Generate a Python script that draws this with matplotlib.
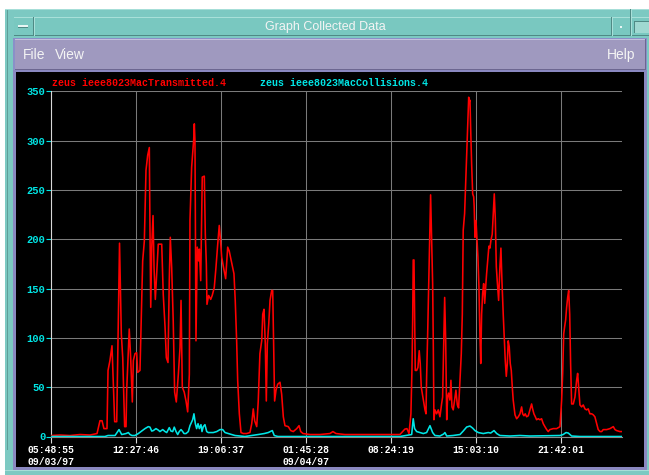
import matplotlib
matplotlib.use("Agg")
import matplotlib.pyplot as plt
from matplotlib.patches import Rectangle

# hours since 05:48:55 on 09/03/97
tx_hours = [0, 0.70, 1.49, 2.27, 3.05, 3.60, 3.83, 3.99, 4.14, 4.38, 4.46, 4.61, 4.77, 4.98, 5.14,
            5.36, 5.50, 5.61, 5.76, 5.87, 5.92, 6.12, 6.23, 6.36, 6.44, 6.57, 6.70, 6.78, 6.96, 7.04,
            7.17, 7.30, 7.43, 7.56, 7.69, 7.74, 7.80, 7.88, 7.98, 8.06, 8.16, 8.27, 8.39, 8.66, 8.78,
            8.92, 9.02, 9.15, 9.25, 9.33, 9.44, 9.56, 9.67, 9.80, 9.96, 10.09, 10.17, 10.27, 10.42,
            10.56, 10.69, 10.82, 10.87, 11.00, 11.16, 11.21, 11.26, 11.34, 11.44, 11.55, 11.60, 11.71,
            11.83, 11.99, 12.07, 12.15, 12.20, 12.33, 12.49, 12.61, 12.77, 12.90, 13.04, 13.16, 13.24,
            13.35, 13.47, 13.66, 13.82, 13.94, 14.13, 14.31, 14.41, 14.52, 14.60, 14.73, 14.86, 15.04,
            15.30, 15.56, 15.70, 15.82, 15.93, 16.09, 16.21, 16.34, 16.48, 16.56, 16.66, 16.76, 16.84,
            16.92, 17.03, 17.13, 17.26, 17.34, 17.42, 17.49, 17.60, 17.73, 17.91, 18.04, 18.17, 18.30,
            18.56, 18.75, 18.95, 19.22, 19.40, 19.53, 19.71, 20.26, 21.04, 21.82, 22.05, 22.29, 22.99,
            24.17, 25.73, 27.29, 27.68, 27.84, 28.00, 28.15, 28.23, 28.29, 28.33, 28.39, 28.44, 28.49,
            28.60, 28.70, 28.80, 28.88, 28.96, 29.12, 29.25, 29.33, 29.38, 29.46, 29.54, 29.62, 29.69,
            29.77, 29.85, 29.90, 29.95, 30.03, 30.16, 30.29, 30.42, 30.55, 30.63, 30.71, 30.79, 30.87,
            30.95, 31.02, 31.10, 31.20, 31.28, 31.36, 31.46, 31.57, 31.67, 31.78, 31.88, 31.99, 32.09,
            32.17, 32.24, 32.35, 32.43, 32.51, 32.59, 32.67, 32.71, 32.77, 32.82, 32.90, 32.98, 33.06,
            33.10, 33.16, 33.24, 33.32, 33.39, 33.47, 33.55, 33.61, 33.68, 33.76, 33.84, 33.92, 34.00,
            34.07, 34.18, 34.25, 34.33, 34.41, 34.51, 34.59, 34.67, 34.75, 34.83, 34.90, 35.01, 35.11,
            35.19, 35.27, 35.37, 35.45, 35.53, 35.61, 35.69, 35.76, 35.84, 35.92, 36.00, 36.08, 36.15,
            36.29, 36.42, 36.55, 36.68, 36.81, 36.89, 36.99, 37.09, 37.20, 37.33, 37.46, 37.59, 37.67,
            37.77, 37.88, 37.98, 38.11, 38.24, 38.37, 38.50, 38.63, 38.77, 38.89, 39.02, 39.28, 39.55,
            39.81, 39.94, 40.02, 40.10, 40.17, 40.25, 40.33, 40.41, 40.49, 40.57, 40.64, 40.72, 40.85,
            40.98, 41.11, 41.19, 41.27, 41.37, 41.50, 41.63, 41.76, 41.89, 42.02, 42.15, 42.29, 42.41,
            42.54, 42.68, 42.80, 42.94, 43.07, 43.19, 43.46, 43.72, 43.98, 44.11, 44.24, 44.50, 44.66]
tx_values = [1, 1.5, 1, 2, 1.5, 3, 16, 16, 8, 8, 67, 77, 92, 15, 15,
             196, 104, 80, 10, 10, 47, 109, 80, 35, 77, 84, 85, 65, 67, 111,
             178, 198, 270, 285, 293, 212, 131, 192, 224, 171, 139, 165, 195, 195, 144,
             111, 80, 75, 158, 202, 171, 117, 45, 35, 63, 90, 138, 50, 45,
             36, 25, 63, 219, 273, 301, 317, 300, 97, 192, 178, 190, 158,
             263, 264, 205, 175, 134, 143, 139, 143, 151, 171, 195, 214, 202,
             182, 173, 160, 192, 188, 176, 165, 138, 97, 57, 23, 4, 3,
             3, 4, 13, 28, 16, 10, 36, 84, 97, 124, 129, 94, 36,
             94, 114, 138, 148, 148, 90, 36, 47, 53, 55, 43, 20, 11,
             10, 6, 5, 8, 11, 5, 3, 2, 2, 3, 5, 3, 2,
             2, 2, 2, 7.5, 8, 3, 23, 67, 121, 179, 179, 118, 67,
             67, 70, 87, 74, 50, 37, 27, 23, 61, 104, 152, 199, 245,
             199, 155, 94, 17, 27, 23, 27, 20, 33, 40, 91, 141, 97,
             17, 40, 44, 37, 57, 30, 27, 37, 47, 32, 29, 57, 84,
             124, 209, 226, 256, 283, 317, 344, 339, 341, 314, 276, 246, 243,
             233, 202, 219, 199, 182, 152, 101, 74, 124, 145, 155, 135, 152,
             165, 182, 193, 191, 199, 205, 226, 246, 221, 172, 158, 138, 172,
             191, 158, 124, 101, 77, 61, 74, 97, 91, 74, 67, 50, 37,
             22, 18, 20, 23, 30, 23, 21, 23, 20, 21, 27, 33, 28,
             23, 20, 17, 18, 17, 18, 13, 10, 7, 5, 7, 8, 8,
             10, 37, 64, 104, 111, 118, 131, 141, 148, 124, 74, 33, 33,
             40, 57, 64, 50, 32, 30, 32, 28, 27, 28, 23, 23, 22,
             20, 13, 7, 5, 5, 7, 7, 8, 10, 7, 6, 5, 5]

col_hours = [0, 4.22, 4.46, 5.01, 5.32, 5.53, 5.87, 6.05, 6.18, 6.33, 6.57, 6.83, 7.09, 7.35, 7.61,
             7.74, 7.88, 8.00, 8.21, 8.39, 8.52, 8.74, 8.92, 9.05, 9.25, 9.38, 9.52, 9.64, 9.78,
             9.91, 10.03, 10.17, 10.30, 10.40, 10.56, 10.74, 10.87, 11.08, 11.18, 11.29, 11.39, 11.50,
             11.60, 11.73, 11.81, 11.91, 12.04, 12.18, 12.30, 12.69, 12.96, 13.22, 13.43, 13.61, 13.87,
             14.13, 14.39, 14.78, 15.17, 16.21, 16.68, 16.99, 17.31, 17.46, 17.75, 19.47, 27.29, 28.21,
             28.33, 28.44, 28.60, 28.86, 29.12, 29.38, 29.64, 29.85, 30.03, 30.42, 30.71, 30.81, 30.95,
             31.44, 31.99, 32.24, 32.51, 32.77, 32.98, 33.16, 33.42, 33.81, 34.20, 34.39, 34.65, 34.86,
             35.11, 35.90, 36.68, 37.46, 39.81, 40.06, 40.28, 40.46, 40.72, 41.37, 44.66]
col_values = [0, 0, 1, 1, 7, 2, 3, 4, 2, 1, 1, 3, 5.5, 8, 10,
              9.5, 5.5, 6, 8, 6.5, 5, 7, 5, 4, 9, 5.5, 5, 9.5, 5,
              2, 5, 7, 5, 3, 3, 5, 11, 17, 23, 13, 8, 13,
              8, 12, 5, 10, 12, 5, 4, 4, 5, 7, 7, 4, 3,
              2, 1, 0.5, 0, 2, 3, 4, 6, 1, 0, 0, 0, 2,
              18, 8, 5, 4, 3, 4, 11, 4, 1, 0.5, 2.5, 4, 0.5,
              1, 2, 5.5, 9.6, 10.6, 8.5, 6, 4, 3, 4, 3.5, 6, 3,
              1, 0.5, 1, 0.5, 1, 2, 4, 3.5, 0.5, 0, 0]

tick_labels = ["05:48:55\n09/03/97", "12:27:46", "19:06:37", "01:45:28\n09/04/97",
               "08:24:19", "15:03:10", "21:42:01"]
tick_step = 6 + 38 / 60 + 51 / 3600   # 6:38:51 between labels
y_ticks = [0, 50, 100, 150, 200, 250, 300, 350]

series_names = ["zeus ieee8023MacTransmitted.4", "zeus ieee8023MacCollisions.4"]

W, H = 649, 475
RED = "#ff0000"
CYAN = "#00e6e6"
TEAL = "#7cc9c2"
MONO = "Liberation Mono"
SANS = "Liberation Sans"

fig = plt.figure(figsize=(W / 100, H / 100), dpi=100, facecolor="white")


def box(x0, y0, x1, y1, color, z=0):
    # window chrome drawn in screen pixels, y measured from the top
    fig.add_artist(Rectangle((x0 / W, 1 - y1 / H), (x1 - x0) / W, (y1 - y0) / H,
                             transform=fig.transFigure, facecolor=color,
                             edgecolor="none", zorder=z))


# window frame and title bar
box(5, 9, W, H, TEAL)
box(5, 9, W, 10, "#a6ded8", 1)
box(7, 10, 8, 450, "#5e9e98", 1)
box(14, 17, W, 36, "#79c8c0", 1)
box(14, 17, W, 18, "#a8e0d9", 2)
box(14, 35, W, 36, "#4f8a85", 2)
box(33, 17, 34, 36, "#4f8a85", 2)
box(34, 17, 35, 36, "#a8e0d9", 2)
box(18, 25, 28, 27, "#e8f6f4", 3)
box(18, 27, 28, 28, "#4f8a85", 3)
box(611, 17, 612, 36, "#4f8a85", 2)
box(612, 17, 613, 36, "#a8e0d9", 2)
box(620, 26, 622, 28, "#e8f6f4", 3)
box(630, 9, 631, 36, "#4f8a85", 2)
box(631, 9, 632, 36, "#a8e0d9", 2)
box(634, 21, W, 33, "#4f8a85", 2)
box(635, 22, W, 33, "#9fd8d1", 3)
fig.text(325 / W, 1 - 27 / H, "Graph Collected Data", family=SANS, fontsize=9,
         color="#f4f4f4", ha="center", va="center")

# menu bar
box(13, 38, 647, 72, "#8a90c8", 1)
box(15, 39, 646, 70, "#9f99bf", 2)
box(15, 39, 646, 40, "#c4c0dc", 3)
box(15, 69, 646, 70, "#6c6690", 3)
box(645, 39, 646, 70, "#6c6690", 3)
for label, x, ha in [("File", 23, "left"), ("View", 55, "left"), ("Help", 635, "right")]:
    fig.text(x / W, 1 - 55 / H, label, family=SANS, fontsize=10, color="#f4f4f4",
             ha=ha, va="center")

# plot canvas
box(13, 70, 647, 470, "#8a88c0", 1)
box(16, 72, 644, 467, "black", 2)
box(5, 470, W, H, TEAL, 1)
box(5, 470, W, 471, "#a6ded8", 2)

ax = fig.add_axes([51 / W, 1 - 436.5 / H, (622 - 51) / W, (436.5 - 91.3) / H], zorder=5)
ax.set_facecolor("black")
ax.plot(tx_hours, tx_values, color=RED, lw=1.15, zorder=3)
ax.plot(col_hours, col_values, color=CYAN, lw=1.15, zorder=4)
ax.set_xlim(0, tx_hours[-1])
ax.set_ylim(0, 350)

ax.set_xticks([i * tick_step for i in range(len(tick_labels))])
ax.set_xticklabels(tick_labels, family=MONO, weight="bold", fontsize=7,
                   color="white", linespacing=1.25)
ax.set_yticks(y_ticks)
ax.set_yticklabels([str(v) for v in y_ticks], family=MONO, weight="bold",
                   fontsize=7.5, color=CYAN)
ax.tick_params(axis="x", colors="#d8d8d8", length=4, width=0.8, pad=2, labelcolor="white")
ax.tick_params(axis="y", colors=CYAN, length=3.6, width=0.8, pad=0.5, labelcolor=CYAN)

ax.grid(True, color="#7a7a7a", lw=0.75)
ax.set_axisbelow(True)
for side in ["top", "right"]:
    ax.spines[side].set_visible(False)
ax.spines["left"].set_color("#d8d8d8")
ax.spines["bottom"].set_color("#8a8a8a")
ax.spines["left"].set_linewidth(0.8)
ax.spines["bottom"].set_linewidth(0.8)

# series titles above the plot
fig.text(52 / W, 1 - 83 / H, series_names[0], family=MONO, weight="bold",
         fontsize=7.2, color=RED, ha="left", va="center", zorder=6)
fig.text(260 / W, 1 - 83 / H, series_names[1], family=MONO, weight="bold",
         fontsize=7.2, color=CYAN, ha="left", va="center", zorder=6)

fig.savefig("out.png", dpi=100, facecolor="white")
